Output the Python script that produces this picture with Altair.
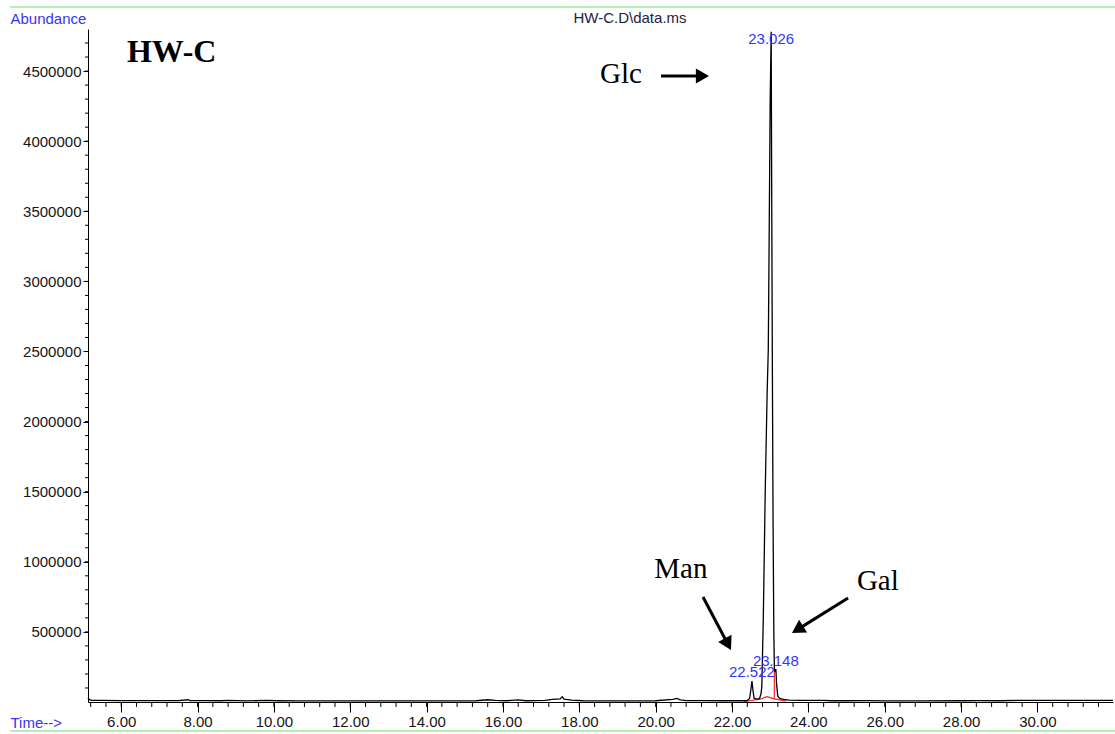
import altair as alt
import pandas as pd

# Total ion chromatogram: retention time (min) and abundance
rt = [5.13, 5.16, 5.22, 5.5, 6.0, 6.5, 7.0, 7.5, 7.75, 7.8, 8.2, 8.6, 8.8, 9.3, 9.8,
      10.1, 10.6, 11.5, 12.5, 13.5, 14.5, 15.3, 15.6, 15.8, 16.1, 16.4, 16.6, 17.1,
      17.3, 17.5, 17.55, 17.6, 17.8, 18.1, 19.0, 20.0, 20.45, 20.55, 20.65, 20.8,
      21.3, 21.8, 22.3, 22.4, 22.46, 22.5, 22.522, 22.55, 22.58, 22.65, 22.72, 22.76,
      22.78, 22.82, 22.87, 22.92, 22.95, 22.97, 23.0, 23.026, 23.04, 23.055, 23.075,
      23.095, 23.11, 23.13, 23.148, 23.17, 23.2, 23.25, 23.35, 23.5, 23.8, 24.4,
      24.6, 25.0, 25.5, 26.0, 27.0, 28.0, 28.5, 29.0, 29.5, 30.0, 31.0, 31.98]
abundance = [30000, 18000, 12000, 11000, 10000, 10500, 10000, 10500, 16000, 10000,
             10000, 9000, 12000, 8000, 11000, 9000, 8000, 8000, 8000, 8000, 8000,
             9000, 16000, 12000, 9000, 15000, 9000, 12000, 18000, 22000, 38000, 20000,
             14000, 9000, 8000, 9000, 18000, 25000, 15000, 10000, 10000, 9000, 9000,
             10000, 25000, 100000, 150000, 80000, 25000, 20000, 24000, 60000, 107000,
             600000, 1500000, 2200000, 2510000, 3200000, 4300000, 4780000, 3600000,
             2510000, 1300000, 500000, 240000, 215000, 235000, 120000, 40000, 25000,
             18000, 14000, 12000, 11000, 9000, 9000, 10000, 8000, 8000, 9000, 10000,
             9000, 12000, 11000, 11000, 11000]

# Integration baselines and drop line
base_rt = [22.31, 22.73, 22.73, 22.92, 23.108, 23.108, 23.108, 23.108, 23.42]
base_ab = [2000, 20000, 20000, 38000, 22000, 22000, 232000, 22000, 6000]
base_seg = ["a", "a", "b", "b", "b", "c", "c", "d", "d"]

# Integrated peaks: retention time and label height
peak_rt = [23.026, 22.522, 23.148]
peak_label_ab = [4690000, 178000, 257000]

# Sugar annotations
sugar_name = ["Glc", "Man", "Gal"]
sugar_rt = [19.09, 20.66, 25.82]
sugar_ab = [4415000, 884000, 799000]
arrow_rt = [20.14, 21.24, 25.04]
arrow_ab = [4465000, 749000, 742000]
head_rt = [21.168, 21.866, 23.765]
head_ab = [4465000, 426000, 525000]
head_angle = [90, 152, 238]

# Axis ticks
x_major = [6, 8, 10, 12, 14, 16, 18, 20, 22, 24, 26, 28, 30]
x_minor = [round(5.2 + 0.4 * i, 1) for i in range(67)]
y_major = [500000, 1000000, 1500000, 2000000, 2500000, 3000000, 3500000,
           4000000, 4500000]
y_minor = [100000 * i for i in range(1, 48)]

trace = pd.DataFrame({"rt": rt, "ab": abundance, "i": range(len(rt))})
base = pd.DataFrame({"rt": base_rt, "ab": base_ab, "seg": base_seg,
                     "i": range(len(base_rt))})
peaks = pd.DataFrame({"rt": peak_rt, "ab": peak_label_ab,
                      "label": [f"{t:.3f}" for t in peak_rt]})
sugars = pd.DataFrame({"name": sugar_name, "rt": sugar_rt, "ab": sugar_ab,
                       "rt0": arrow_rt, "ab0": arrow_ab,
                       "rt1": head_rt, "ab1": head_ab, "angle": head_angle})

X_DOMAIN = [5.13, 31.98]
Y_DOMAIN = [0, 4800000]
BLUE = "#3535f5"
SANS = "Liberation Sans"
SERIF = "Liberation Serif"

xs = alt.Scale(domain=X_DOMAIN, nice=False, zero=False)
ys = alt.Scale(domain=Y_DOMAIN, nice=False)

x_axis = alt.Axis(values=x_major, format=".2f", tickSize=10, tickColor="black",
                  domainColor="black", labelFont=SANS, labelFontSize=15,
                  labelColor="#141414", labelPadding=2, grid=False,
                  title="Time-->", titleFont=SANS, titleFontSize=15,
                  titleFontWeight="normal", titleColor=BLUE, titleAnchor="start",
                  titleAlign="left", titleBaseline="middle", titleX=-78, titleY=20)
y_axis = alt.Axis(values=y_major, format="d", tickSize=5, tickColor="black",
                  domainColor="black", labelFont=SANS, labelFontSize=15,
                  labelColor="#141414", labelPadding=2, grid=False,
                  title="Abundance", titleFont=SANS, titleFontSize=15,
                  titleFontWeight="normal", titleColor=BLUE, titleAngle=0,
                  titleAlign="left", titleBaseline="middle", titleX=-78, titleY=-11)

line = alt.Chart(trace).mark_line(color="black", strokeWidth=1.3).encode(
    x=alt.X("rt:Q", scale=xs, axis=x_axis),
    y=alt.Y("ab:Q", scale=ys, axis=y_axis),
    order="i:Q",
)

integ = alt.Chart(base).mark_line(color="#ff2020", strokeWidth=1.2).encode(
    x=alt.X("rt:Q", scale=xs), y=alt.Y("ab:Q", scale=ys),
    detail="seg:N", order="i:Q",
)

peak_text = alt.Chart(peaks).mark_text(
    font=SANS, fontSize=15, color=BLUE, align="center", baseline="alphabetic"
).encode(x=alt.X("rt:Q", scale=xs), y=alt.Y("ab:Q", scale=ys), text="label:N")

minor_x = alt.Chart(pd.DataFrame({"t": x_minor})).mark_rule(
    color="black", strokeWidth=1).encode(
    x=alt.X("t:Q", scale=xs), y=alt.value(673), y2=alt.value(678))

minor_y = alt.Chart(pd.DataFrame({"v": y_minor})).mark_rule(
    color="black", strokeWidth=1).encode(
    y=alt.Y("v:Q", scale=ys), x=alt.value(-3), x2=alt.value(0))

sugar_text = alt.Chart(sugars).mark_text(
    font=SERIF, fontSize=29, color="black", align="center", baseline="alphabetic"
).encode(x=alt.X("rt:Q", scale=xs), y=alt.Y("ab:Q", scale=ys), text="name:N")

shafts = alt.Chart(sugars).mark_rule(color="black", strokeWidth=3).encode(
    x=alt.X("rt0:Q", scale=xs), y=alt.Y("ab0:Q", scale=ys),
    x2="rt1:Q", y2="ab1:Q")

heads = alt.Chart(sugars).mark_point(
    shape="triangle", filled=True, color="black", size=230, opacity=1
).encode(x=alt.X("rt1:Q", scale=xs), y=alt.Y("ab1:Q", scale=ys),
         angle=alt.Angle("angle:Q", scale=None))

sample = alt.Chart(pd.DataFrame({"name": ["HW-C"], "rt": [6.15],
                                 "ab": [4565000]})).mark_text(
    font=SERIF, fontSize=32, fontWeight="bold", color="black",
    align="left", baseline="alphabetic"
).encode(x=alt.X("rt:Q", scale=xs), y=alt.Y("ab:Q", scale=ys), text="name:N")

file_label = alt.Chart(pd.DataFrame({"f": ["HW-C.D\\data.ms"]})).mark_text(
    font=SANS, fontSize=15, color="#1c1c44", align="center", baseline="middle"
).encode(x=alt.value(542), y=alt.value(-11), text="f:N")

frame_top = alt.Chart(pd.DataFrame({"y": [0]})).mark_rule(
    color="#99ee99", strokeWidth=1.6).encode(
    x=alt.value(-78), x2=alt.value(1027), y=alt.value(-22))
frame_bottom = alt.Chart(pd.DataFrame({"y": [0]})).mark_rule(
    color="#99ee99", strokeWidth=1.6).encode(
    x=alt.value(-78), x2=alt.value(1027), y=alt.value(702))

chart = alt.layer(
    frame_top, frame_bottom, minor_x, minor_y, integ, line, peak_text,
    shafts, heads, sugar_text, sample, file_label
).properties(
    width=1025, height=673,
    autosize=alt.AutoSizeParams(type="none"),
    padding={"left": 88, "top": 29, "right": 2, "bottom": 32},
    background="white",
).configure_view(stroke=None)

chart.save("out.html", embed_options={"renderer": "svg", "actions": False})
